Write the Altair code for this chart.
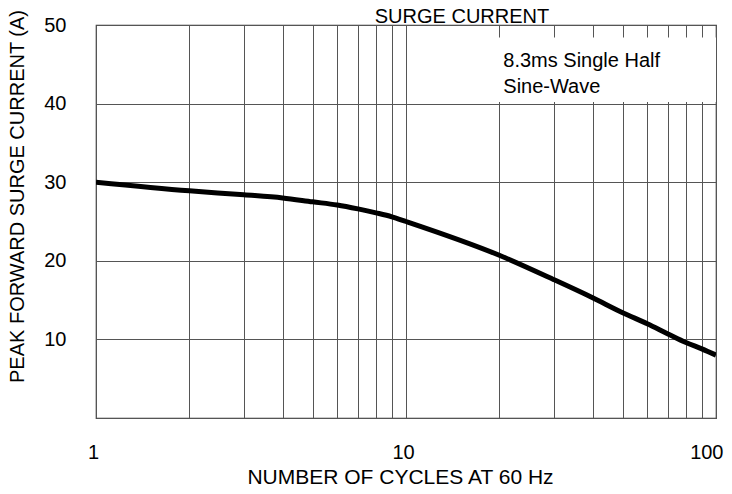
import altair as alt
import pandas as pd

# Curve data
cycles = [1, 2, 3, 4, 5, 6, 7, 8, 9, 10, 20, 30, 40, 50, 60, 70, 80, 90, 100]
current = [30.0, 28.9, 28.4, 28.0, 27.5, 27.1, 26.6, 26.1, 25.6, 25.0,
           20.7, 17.6, 15.3, 13.4, 12.0, 10.7, 9.6, 8.8, 8.0]

x_grid = [1, 2, 3, 4, 5, 6, 7, 8, 9, 10, 20, 30, 40, 50, 60, 70, 80, 90, 100]
y_grid = [0, 10, 20, 30, 40, 50]

title_text = "SURGE CURRENT"
note_lines = ["8.3ms Single Half", "Sine-Wave"]
note_box_x = [19.3, 100]
note_box_y = [40.2, 48.4]
note_pos = [20.6, 44.7]

FONT = "Liberation Sans"
GRID = "#555555"

df = pd.DataFrame({"cycles": cycles, "current": current})

xscale = alt.Scale(type="log", domain=[1, 100], nice=False)
yscale = alt.Scale(domain=[0, 50], nice=False)

base = alt.Chart(df)

line = base.mark_line(color="black", strokeWidth=5, interpolate="monotone", clip=True).encode(
    x=alt.X("cycles:Q", scale=xscale,
            axis=alt.Axis(values=x_grid, title="NUMBER OF CYCLES AT 60 Hz",
                          labelExpr="(datum.value == 1 || datum.value == 10 || datum.value == 100) ? datum.label : ''",
                          format="d", grid=True, gridColor=GRID, gridWidth=1,
                          domain=False, ticks=False, labelPadding=24,
                          labelFlush=False,
                          labelOffset={"condition": {"test": "datum.value >= 100", "value": 7}, "value": -3},
                          labelAlign={"condition": {"test": "datum.value >= 100", "value": "right"}, "value": "center"},
                          labelFont=FONT, labelFontSize=20, labelColor="black",
                          titleFont=FONT, titleFontSize=21, titleFontWeight="normal",
                          titleColor="black", titleY=65, titleBaseline="alphabetic",
                          titleX=304, titleAlign="center")),
    y=alt.Y("current:Q", scale=yscale,
            axis=alt.Axis(values=y_grid, title="PEAK FORWARD SURGE CURRENT (A)",
                          labelExpr="datum.value == 0 ? '' : datum.label",
                          grid=True, gridColor=GRID, gridWidth=1,
                          domain=False, ticks=False, labelPadding=30,
                          labelFont=FONT, labelFontSize=20, labelColor="black",
                          titleFont=FONT, titleFontSize=20, titleFontWeight="normal",
                          titleColor="black", titleX=-79, titleY=171,
                          titleAlign="center", titleBaseline="middle", titleAngle=-90)),
)

box = alt.Chart(pd.DataFrame({"x": [note_box_x[0]], "x2": [note_box_x[1]],
                              "y": [note_box_y[0]], "y2": [note_box_y[1]]})).mark_rect(
    color="white", opacity=1).encode(
    x=alt.X("x:Q", scale=xscale), x2="x2:Q",
    y=alt.Y("y:Q", scale=yscale), y2="y2:Q")

note = alt.Chart(pd.DataFrame({"x": [note_pos[0]], "y": [note_pos[1]], "t": [note_lines]})).mark_text(
    align="left", baseline="alphabetic", font=FONT, fontSize=20, lineHeight=26, color="black").encode(
    x=alt.X("x:Q", scale=xscale), y=alt.Y("y:Q", scale=yscale), text="t")

title = alt.Chart(pd.DataFrame({"t": [title_text]})).mark_text(
    align="center", baseline="alphabetic", font=FONT, fontSize=20, color="black").encode(
    x=alt.value(366), y=alt.value(-2), text="t")

chart = alt.layer(line, box, note, title).properties(
    width=620, height=393,
    autosize=alt.AutoSizeParams(type="none"),
    padding={"left": 88, "top": 17, "right": 8, "bottom": 68},
).configure_view(stroke="#333333", strokeWidth=1.2)

chart.save("out.html", embed_options={"renderer": "svg", "actions": False})
